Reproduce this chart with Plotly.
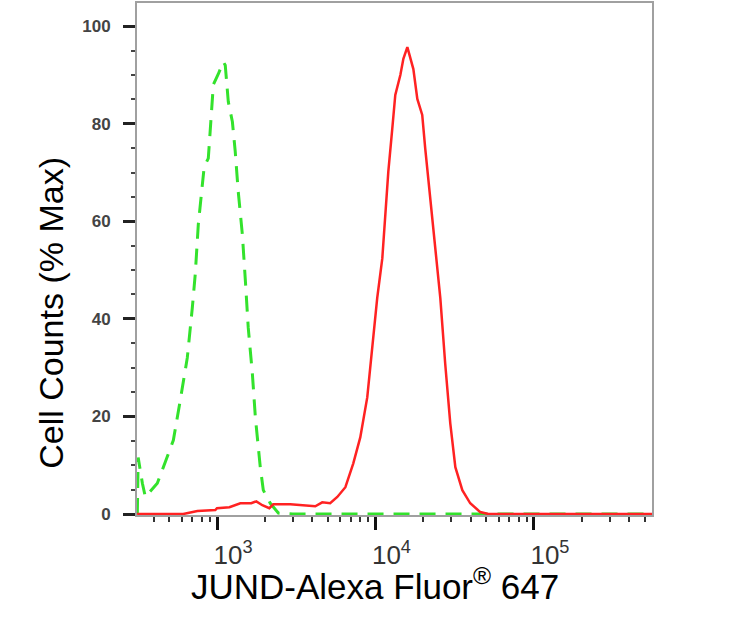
import plotly.graph_objects as go

# Control (isotype) histogram - green dashed
ctrl_x = [314, 318, 338, 353, 420, 458, 530, 586, 649, 698, 729, 762, 807, 830, 881, 908, 948,
          1019, 1096, 1127, 1178, 1250, 1303, 1361, 1445, 1510, 1574, 1671, 1746, 1875, 1959,
          2168, 2438, 3000, 5000, 10000, 30000, 100000, 556000]
ctrl_y = [0, 11.6, 6.3, 3.5, 6.3, 9.6, 15.1, 23.3, 32, 42.2, 49.2, 59.4, 66.7, 71.2, 72.9, 80.2, 88,
          90.2, 92.7, 92, 84.5, 80.4, 74.3, 66.1, 57.3, 47.8, 38.2, 28.8, 19.8, 9.6, 4.9,
          2.2, 0.2, 0, 0, 0, 0, 0, 0]

# JUND-Alexa Fluor 647 histogram - red solid
jund_x = [313, 612, 752, 975, 1000, 1197, 1403, 1644, 1770, 1932, 2138, 2265, 2897, 4169, 4613,
          5176, 5741, 6457, 7244, 8017, 8872, 9550, 10257, 11041, 11535, 12050, 12764, 13335,
          14355, 14997, 15888, 16596, 17338, 18365, 19724, 20606, 22182, 23823, 25645, 27542,
          29648, 31915, 35318, 39628, 45814, 51523, 100000, 556000]
jund_y = [0, 0, 0.6, 0.8, 1.2, 1.4, 2.2, 2.2, 2.6, 1.8, 1.2, 2.0, 2.0, 1.6, 2.4,
          2.2, 3.5, 5.5, 10.4, 15.7, 23.9, 34.1, 44.3, 52.4, 61.4, 70.2, 79, 85.9,
          90, 93.3, 95.7, 93.3, 91.2, 85.1, 81.8, 74.9, 64.7, 54.5, 44.3, 30.8,
          18.6, 9.6, 4.9, 2.2, 0.4, 0, 0, 0]

x_major = [1e3, 1e4, 1e5]
x_major_text = ["10<sup>3</sup>", "10<sup>4</sup>", "10<sup>5</sup>"]
x_minor = [400, 500, 600, 700, 800, 900,
           2000, 3000, 4000, 5000, 6000, 7000, 8000, 9000,
           20000, 30000, 40000, 50000, 60000, 70000, 80000, 90000,
           200000, 300000, 400000, 500000]
y_major = [0, 20, 40, 60, 80, 100]
y_minor = [5, 10, 15, 25, 30, 35, 45, 50, 55, 65, 70, 75, 85, 90, 95]

FONT = "Liberation Sans, Arial, sans-serif"

fig = go.Figure()
fig.add_trace(go.Scatter(x=ctrl_x, y=ctrl_y, mode="lines",
                         line=dict(color="#33e22c", width=3, dash="16px,10px"),
                         showlegend=False))
fig.add_trace(go.Scatter(x=jund_x, y=jund_y, mode="lines",
                         line=dict(color="#ff2222", width=2.5),
                         showlegend=False))

fig.update_layout(
    width=742, height=618,
    margin=dict(l=137, r=90, t=1, b=103),
    paper_bgcolor="white", plot_bgcolor="white",
    font=dict(family=FONT, color="#333333"),
    xaxis=dict(
        type="log", range=[2.495, 5.745],
        tickmode="array", tickvals=x_major, ticktext=x_major_text,
        ticks="outside", ticklen=13, tickwidth=3, tickcolor="#111111",
        tickfont=dict(size=26, color="#333333", family=FONT),
        ticklabelshift=16, ticklabelstandoff=3,
        minor=dict(tickmode="array", tickvals=x_minor, ticks="outside",
                   ticklen=5, tickwidth=2, tickcolor="#333333"),
        showline=True, linecolor="#a0a0a0", linewidth=2, mirror=True,
        showgrid=False, zeroline=False,
    ),
    yaxis=dict(
        range=[-0.2, 104.75],
        tickmode="array", tickvals=y_major, ticktext=[str(v) for v in y_major],
        ticks="outside", ticklen=12, tickwidth=3, tickcolor="#222222",
        tickfont=dict(size=17, color="#444444", family=FONT, weight="bold"),
        ticklabelstandoff=9,
        minor=dict(tickmode="array", tickvals=y_minor, ticks="outside",
                   ticklen=4, tickwidth=2, tickcolor="#444444"),
        showline=True, linecolor="#a0a0a0", linewidth=2, mirror=True,
        showgrid=False, zeroline=False,
    ),
    annotations=[
        dict(text="Cell Counts (% Max)", xref="paper", yref="paper",
             x=(51 - 137) / 515, y=(515 - 312) / 514, xanchor="center", yanchor="middle",
             textangle=-90, showarrow=False,
             font=dict(size=34, color="black", family=FONT)),
        dict(text="JUND-Alexa Fluor<sup>®</sup> 647", xref="paper", yref="paper",
             x=(375 - 137) / 515, y=(515 - 584) / 514, xanchor="center", yanchor="middle",
             showarrow=False,
             font=dict(size=35, color="black", family=FONT)),
    ],
)

fig.write_html("out.html", config={"displayModeBar": False},
               post_script="document.body.style.margin='0px';")
